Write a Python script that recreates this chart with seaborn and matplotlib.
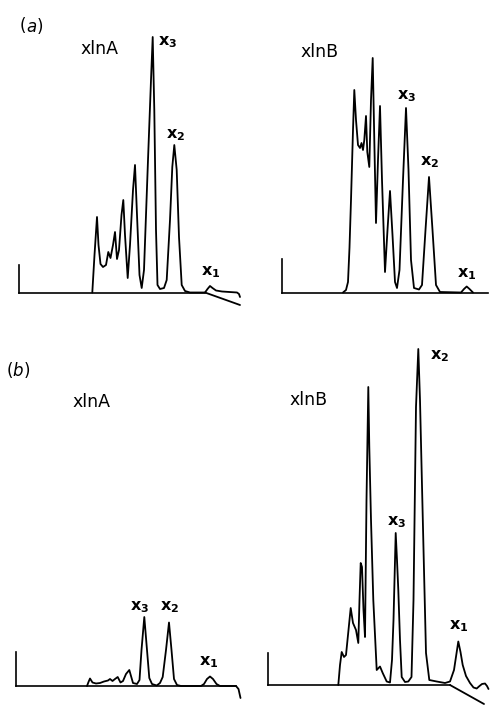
import matplotlib
matplotlib.use("Agg")
import matplotlib.pyplot as plt
import seaborn as sns

sns.set_theme(style="white")
plt.rcParams["font.family"] = ["DejaVu Sans"]
plt.rcParams["text.color"] = "black"

# chromatogram traces (time units, signal units above baseline)
a_left_time = [73.3, 75.5, 78, 79.5, 81.5, 84, 87, 89.3, 91.5, 94, 96, 98, 100, 102.5, 104.3, 106, 108.7,
               111, 114, 116, 118, 120.5, 122.7, 125, 129, 132, 133.7, 135.3, 137, 138.5, 141, 145, 147.7,
               151, 153.3, 155.3, 157.7, 160, 162.7, 166, 171, 186, 188.5, 191, 193.5, 197, 203, 218, 220, 221]
a_left_signal = [0, 37.5, 75.5, 47.5, 28.5, 25.5, 27.5, 40.5, 34.5, 47.5, 60.5, 33.5, 42.5, 77.5, 92.5, 57.5, 14.5,
                 47.5, 102.5, 127.5, 77.5, 17.5, 4.5, 22.5, 132.5, 212.5, 255.5, 182.5, 62.5, 7.5, 3.5, 4.5, 12.5,
                 72.5, 125.5, 147.5, 122.5, 55.5, 7.5, 1.5, 0, 0, 3.5, 6.5, 4.5, 2, 1, 0, -1.5, -4.5]

a_right_time = [61, 64, 66, 67.5, 69, 71, 72.3, 74, 76, 78, 79.5, 81, 82.3, 84, 85.3, 87.3, 89, 90.7, 92.3, 94,
                96, 98, 100, 103, 105.5, 108, 110.5, 113, 115, 117.5, 121, 124, 126.5, 129, 132, 137, 140,
                143.5, 147, 150.5, 154, 158, 179, 182, 184.7, 187.5, 191]
a_right_signal = [0, 2.5, 10.5, 45, 92.5, 162.5, 202.5, 172.5, 147.5, 144.5, 149.5, 142.5, 152.5, 176.5, 140.5,
                  125.5, 192.5, 234.5, 152.5, 69.5, 132.5, 186.5, 112.5, 20.5, 62.5, 101.5, 57.5, 10.5, 4.5,
                  22.5, 112.5, 184.5, 122.5, 32.5, 4.5, 3, 7.5, 62.5, 115.5, 62.5, 7.5, 0.5, 0, 3.5, 6, 3.5, 0]

b_left_time = [71, 72.5, 74, 76.5, 80, 84, 88, 92, 94, 96.5, 99, 101.7, 104.5, 107, 110, 113.3, 115, 117, 121,
               123.5, 125.5, 128.3, 131, 133.3, 136, 140.7, 144, 146.7, 150, 153, 155.5, 158, 161, 165, 185,
               188, 191, 194, 197, 200.5, 204, 220, 222.5, 224.5]
b_left_signal = [0, 4, 7.5, 3.5, 2.5, 3, 4.5, 5.5, 7, 5, 7, 9, 3.5, 5, 12, 16, 10, 3, 2,
                 6, 36, 69, 36, 8, 2, 0.5, 3, 9, 36, 63.5, 36, 7, 1, 0, 0,
                 2, 7, 9.5, 7, 2, 0, 0, -3, -12]

b_right_time = [70.3, 72, 73.7, 76, 78, 80.5, 82.7, 85, 88, 90.3, 91.5, 92.7, 94, 95.5, 97, 98.5, 100.3, 101.3,
                103, 105.3, 108.7, 112, 114.7, 118.7, 122, 124, 125.5, 127.7, 129, 130.3, 132, 133.7, 137,
                140.3, 143.5, 145.5, 148, 150.3, 152, 153.7, 156, 158, 161.3, 168.7, 177, 182, 186, 190.3,
                192.5, 194.7, 198, 202, 205.5, 208.7, 211.5, 214, 217, 219, 220.5]
b_right_signal = [0, 20, 33, 28, 30, 55, 77, 62, 55, 42, 85, 122, 118, 75, 48, 185, 298, 238,
                  165, 85, 15, 18.5, 12, 3.5, 2.5, 25, 65, 152, 125, 95, 45, 8, 3,
                  3.5, 8, 85, 278, 336, 285, 212, 115, 32, 5, 3.5, 2, 3.5, 15, 43.5,
                  33, 20, 9, 2, -2.5, -3.5, -1, 1, 1.5, -1, -4]

# baseline drift strokes at the end of the runs
a_left_drift_time = [186, 221]
a_left_drift_signal = [0, -12.5]
b_right_drift_time = [182, 216]
b_right_drift_signal = [0, -19]

peak_names = ["x_3", "x_2", "x_1"]

W, H = 490, 707
fig = plt.figure(figsize=(W / 100, H / 100), dpi=100)


def panel(box, origin, stub, base_end):
    x0, y0, x1, y1 = box
    ox, oy = origin
    ax = fig.add_axes([x0 / W, 1 - y1 / H, (x1 - x0) / W, (y1 - y0) / H])
    ax.set_xlim(x0 - ox, x1 - ox)
    ax.set_ylim(oy - y1, oy - y0)
    ax.set_facecolor("none")
    for s in ["top", "right"]:
        ax.spines[s].set_visible(False)
    ax.spines["left"].set_bounds(0, stub)
    ax.spines["bottom"].set_bounds(0, base_end)
    for s in ["left", "bottom"]:
        ax.spines[s].set_position(("data", 0))
        ax.spines[s].set_color("black")
        ax.spines[s].set_linewidth(1.2)
    ax.set_xticks([])
    ax.set_yticks([])
    return ax


def trace(ax, t, s):
    sns.lineplot(x=t, y=s, sort=False, estimator=None, color="black", lw=1.3, ax=ax)


def label(ax, t, s, name):
    ax.text(t, s, r"$\mathregular{" + name + "}$", ha="center", va="center",
            fontsize=11.5, fontweight="bold", color="black")


ax1 = panel((0, 0, 245, 320), (19, 292.5), 27.5, 186)
trace(ax1, a_left_time, a_left_signal)
trace(ax1, a_left_drift_time, a_left_drift_signal)
ax1.text(80.5, 243.5, "xlnA", ha="center", va="center", fontsize=12.5)
for (t, s), n in zip([(149, 250), (157, 157.5), (192, 20.5)], peak_names):
    label(ax1, t, s, n)

ax2 = panel((245, 0, 490, 320), (282, 292.5), 34, 206)
trace(ax2, a_right_time, a_right_signal)
ax2.text(38, 240.5, "xlnB", ha="center", va="center", fontsize=12.5)
for (t, s), n in zip([(124.5, 196.5), (148, 130.5), (184.5, 18.5)], peak_names):
    label(ax2, t, s, n)

ax3 = panel((0, 330, 245, 707), (16, 686), 34, 220)
trace(ax3, b_left_time, b_left_signal)
ax3.text(75, 284, "xlnA", ha="center", va="center", fontsize=12.5)
for (t, s), n in zip([(124, 79), (154, 79), (193, 24)], peak_names):
    label(ax3, t, s, n)

ax4 = panel((245, 330, 490, 707), (268, 685), 31.7, 182)
trace(ax4, b_right_time, b_right_signal)
trace(ax4, b_right_drift_time, b_right_drift_signal)
ax4.text(41, 285, "xlnB", ha="center", va="center", fontsize=12.5)
for (t, s), n in zip([(128.5, 163), (172, 329), (191, 59)], peak_names):
    label(ax4, t, s, n)

fig.text(26 / W, 1 - 26 / H, "(", ha="right", va="center", fontsize=12)
fig.text(26 / W, 1 - 26 / H, r"$\it{a}$)", ha="left", va="center", fontsize=12)
fig.text(18 / W, 1 - 370 / H, r"($\it{b}$)", ha="center", va="center", fontsize=12)

fig.savefig("out.png", dpi=100)
